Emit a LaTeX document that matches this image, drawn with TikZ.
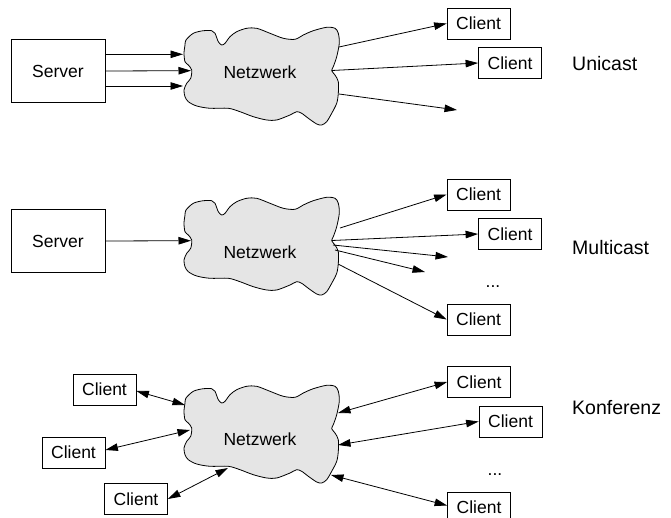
\documentclass[tikz,border=0pt]{standalone}
\usepackage{fontspec}
\setmainfont{Liberation Sans}
\usetikzlibrary{arrows.meta}
\begin{document}
\begin{tikzpicture}[x=1pt,y=-1pt,
  lbl/.style={font=\fontsize{17.5}{20}\selectfont, inner sep=0pt},
  modelbl/.style={font=\fontsize{19.5}{22}\selectfont, inner sep=0pt, anchor=west},
  srvbox/.style={draw, line width=0.8pt, minimum width=94pt, minimum height=63pt, inner sep=0pt, font=\fontsize{17.5}{20}\selectfont},
  clbox/.style={draw, line width=0.8pt, minimum width=63pt, minimum height=31pt, inner sep=0pt, font=\fontsize{17.5}{20}\selectfont},
  netcloud/.style={draw, line width=0.8pt, fill=black!10},
  conn/.style={line width=0.8pt, -{Triangle[length=12.5pt,width=7.5pt]}},
  bconn/.style={line width=0.8pt, {Triangle[length=12.5pt,width=7.5pt]}-{Triangle[length=12.5pt,width=7.5pt]}}]
\useasboundingbox (0,0) rectangle (671,518);
\newcommand{\drawnetcloud}{\draw[netcloud] plot[smooth cycle, tension=0.5] coordinates {
 (185,45) (186,40) (193.3,33.3) (203.3,30.7) (211.7,30.7) (215,33.3) (218.3,41.7) (221.7,45)
 (225,43.3) (230,36.7) (236.7,31.7) (246.7,28.3) (256.7,28.3) (270,33.3) (283.3,38.3) (295,39.3)
 (303.3,35) (313.3,30.7) (326.7,27.3) (335,28.3) (338.3,33.3) (339.3,43.3) (336.7,56.7) (333.3,66.7)
 (331.7,70.7) (335,75) (338.3,81.7) (338.3,93.3) (336.7,103.3) (331.7,113.3) (326.7,121.7) (321.7,125)
 (316.7,124) (308.3,118.3) (301.7,113.3) (296.7,111.7) (290,115) (276.7,120) (266.7,120) (253.3,116.7)
 (240,111.7) (228.3,108.3) (210,108.3) (196.7,106) (188.3,101.7) (185,96.7) (184,90) (186.7,83.3)
 (190.7,78.3) (191.7,70) (188.3,65) (185,61.7) (184,53.3)};}

% ---------------- Unicast ----------------
\drawnetcloud
\node[lbl] (net1) at (260,72) {Netzwerk};
\node[srvbox] (srv1) at (58,71) {Server};
\node[clbox] (uc1) at (478.5,23.5) {Client};
\node[clbox] (uc2) at (510,63) {Client};
\node[modelbl] (lab1) at (572,64) {Unicast};
\coordinate (n1a) at (183,54.3);
\coordinate (n1b) at (191,70.7);
\coordinate (n1c) at (183,86);
\coordinate (n1o1) at (339,47);
\coordinate (n1o2) at (332,70.5);
\coordinate (n1o3) at (339,94);
\coordinate (u3end) at (457,110);
\draw[conn] ([yshift=16.7pt]srv1.east) -- (n1a);
\draw[conn] (srv1.east) -- (n1b);
\draw[conn] ([yshift=-15pt]srv1.east) -- (n1c);
\draw[conn] (n1o1) -- (uc1.west);
\draw[conn] (n1o2) -- (uc2.west);
\draw[conn] (n1o3) -- (u3end);

% ---------------- Multicast ----------------
\begin{scope}[shift={(0,170)}]
\drawnetcloud
\end{scope}
\node[lbl] (net2) at (260,252) {Netzwerk};
\node[srvbox] (srv2) at (58,241) {Server};
\node[clbox] (mA) at (478.5,194.5) {Client};
\node[clbox] (mB) at (510,234) {Client};
\node[clbox] (mC) at (478.5,319.5) {Client};
\node[lbl] (mdots) at (493,287) {...};
\node[modelbl] (lab2) at (572,248) {Multicast};
\coordinate (n2in) at (191,240.7);
\coordinate (n2o1) at (340,228);
\coordinate (n2o2) at (332,240.5);
\coordinate (n2o3) at (333,245);
\coordinate (n2o4) at (335,250);
\coordinate (n2o5) at (338,264);
\coordinate (m3end) at (448,257);
\coordinate (m4end) at (425,272);
\draw[conn] (srv2.east) -- (n2in);
\draw[conn] (n2o1) -- (mA.west);
\draw[conn] (n2o2) -- (mB.west);
\draw[conn] (n2o3) -- (m3end);
\draw[conn] (n2o4) -- (m4end);
\draw[conn] (n2o5) -- (mC.west);

% ---------------- Konferenz ----------------
\begin{scope}[shift={(0,358)}]
\drawnetcloud
\end{scope}
\node[lbl] (net3) at (260,439) {Netzwerk};
\node[clbox] (kL1) at (104.5,389.5) {Client};
\node[clbox] (kL2) at (73.5,452.5) {Client};
\node[clbox] (kL3) at (136,499) {Client};
\node[clbox] (kR1) at (479,382) {Client};
\node[clbox] (kR2) at (510.5,421.5) {Client};
\node[clbox] (kR3) at (479,507.5) {Client};
\node[lbl] (kdots) at (495,475) {...};
\node[modelbl] (lab3) at (572,408) {Konferenz};
\coordinate (n3l1) at (185,405);
\coordinate (n3l2) at (190,430);
\coordinate (n3l3) at (228,468);
\coordinate (n3r1) at (338,413);
\coordinate (n3r2) at (338,445);
\coordinate (n3r3) at (331,475);
\draw[bconn] ([yshift=-1.5pt]kL1.east) -- (n3l1);
\draw[bconn] ([yshift=2.5pt]kL2.east) -- (n3l2);
\draw[bconn] (kL3.east) -- (n3l3);
\draw[bconn] (n3r1) -- (kR1.west);
\draw[bconn] (n3r2) -- (kR2.west);
\draw[bconn] (n3r3) -- ([yshift=2pt]kR3.west);
\end{tikzpicture}
\end{document}
